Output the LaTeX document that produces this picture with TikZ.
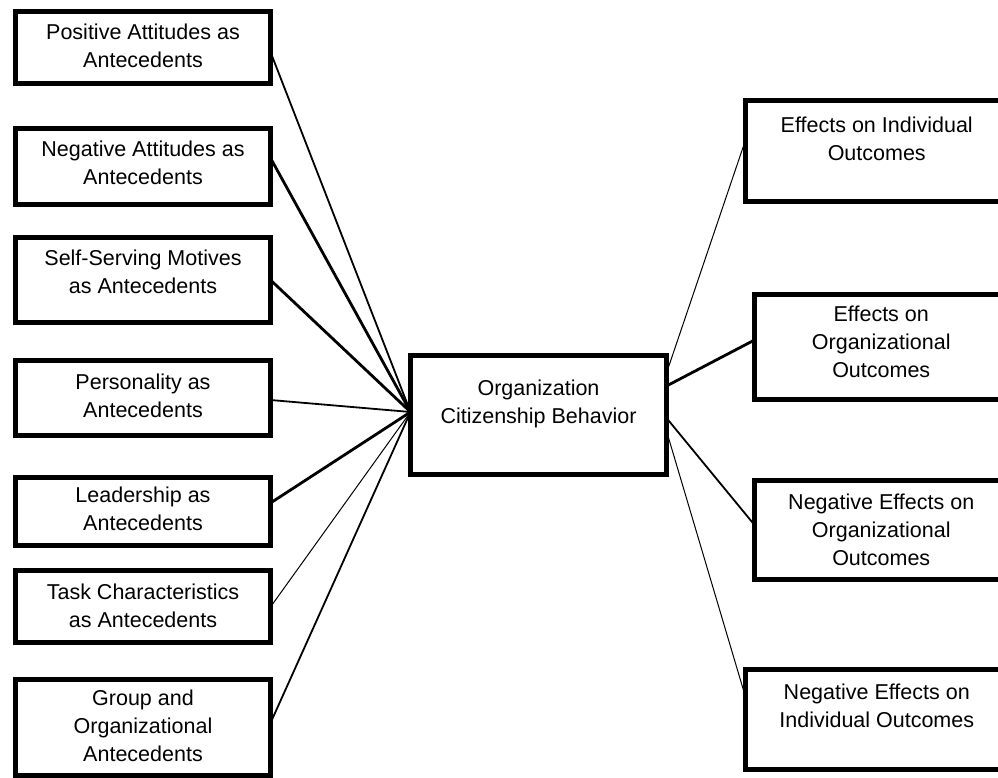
\documentclass[tikz,border=0pt]{standalone}
\usepackage{fontspec}
\setmainfont{Liberation Sans}
\usetikzlibrary{calc}
\tikzset{
  box/.style={draw=black, line width=5pt, rectangle, inner sep=0pt, outer sep=0pt},
  txt/.style={align=center, font=\fontsize{21.5}{28}\selectfont, inner sep=0pt},
  lthin/.style={line width=1pt},
  lmed/.style={line width=1.8pt},
  lthick/.style={line width=2.8pt}
}
\begin{document}
\begin{tikzpicture}[x=1pt, y=-1pt]
\useasboundingbox (0,0) rectangle (998,778);
% left boxes
\node[box, minimum width=255pt, minimum height=72pt] (b1) at (143,47.5) {};
\node[txt] (t1) at (143,46) {Positive Attitudes as\\Antecedents};
\node[box, minimum width=255pt, minimum height=76pt] (b2) at (143,166.5) {};
\node[txt] (t2) at (143,162.5) {Negative Attitudes as\\Antecedents};
\node[box, minimum width=255pt, minimum height=85pt] (b3) at (143,280) {};
\node[txt] (t3) at (143,272) {Self-Serving Motives\\as Antecedents};
\node[box, minimum width=255pt, minimum height=75pt] (b4) at (143,398) {};
\node[txt] (t4) at (143,396) {Personality as\\Antecedents};
\node[box, minimum width=255pt, minimum height=68pt] (b5) at (143,511.5) {};
\node[txt] (t5) at (143,509) {Leadership as\\Antecedents};
\node[box, minimum width=255pt, minimum height=72pt] (b6) at (143,606.5) {};
\node[txt] (t6) at (143,605.5) {Task Characteristics\\as Antecedents};
\node[box, minimum width=255pt, minimum height=96pt] (b7) at (143,727.5) {};
\node[txt] (t7) at (143,726) {Group and\\Organizational\\Antecedents};
% centre box
\node[box, minimum width=256pt, minimum height=119pt] (c) at (538.5,415) {};
\node[txt] (tc) at (538.5,404) {Organization\\Citizenship Behavior};
% right boxes
\node[box, minimum width=262.5pt, minimum height=101pt] (r1) at (876.75,151) {};
\node[txt] (tr1) at (876.75,139) {Effects on Individual\\Outcomes};
\node[box, minimum width=253.5pt, minimum height=105pt] (r2) at (881.25,347) {};
\node[txt] (tr2) at (881.25,342) {Effects on\\Organizational\\Outcomes};
\node[box, minimum width=253.5pt, minimum height=99pt] (r3) at (881.25,530) {};
\node[txt] (tr3) at (881.25,530) {Negative Effects on\\Organizational\\Outcomes};
\node[box, minimum width=262.5pt, minimum height=100pt] (r4) at (876.75,719.5) {};
\node[txt] (tr4) at (876.75,706) {Negative Effects on\\Individual Outcomes};
% connectors, left
\coordinate (cin) at ($(c.west)+(0,-3)$);
\draw[lmed]   ($(b1.east)+(0,4.5)$)  -- (cin);
\draw[lthick] ($(b2.east)+(0,-8.5)$) -- (cin);
\draw[lthick] (b3.east) -- (cin);
\draw[lmed]   ($(b4.east)+(0,2)$)    -- (cin);
\draw[lthick] ($(b5.east)+(0,-8.5)$) -- (cin);
\draw[lthin]  ($(b6.east)+(0,0.5)$)  -- (cin);
\draw[lmed]   ($(b7.east)+(0,-4.5)$) -- (cin);
% connectors, right
\draw[lthin]  ($(c.east)+(0,-42)$) -- ($(r1.west)+(0,-11)$);
\draw[lthick] ($(c.east)+(0,-29)$) -- ($(r2.west)+(0,-7)$);
\draw[lmed]   ($(c.east)+(0,3)$)   -- ($(r3.west)+(0,-5)$);
\draw[lthin]  ($(c.east)+(0,16)$)  -- ($(r4.west)+(0,-22.5)$);
\end{tikzpicture}
\end{document}
